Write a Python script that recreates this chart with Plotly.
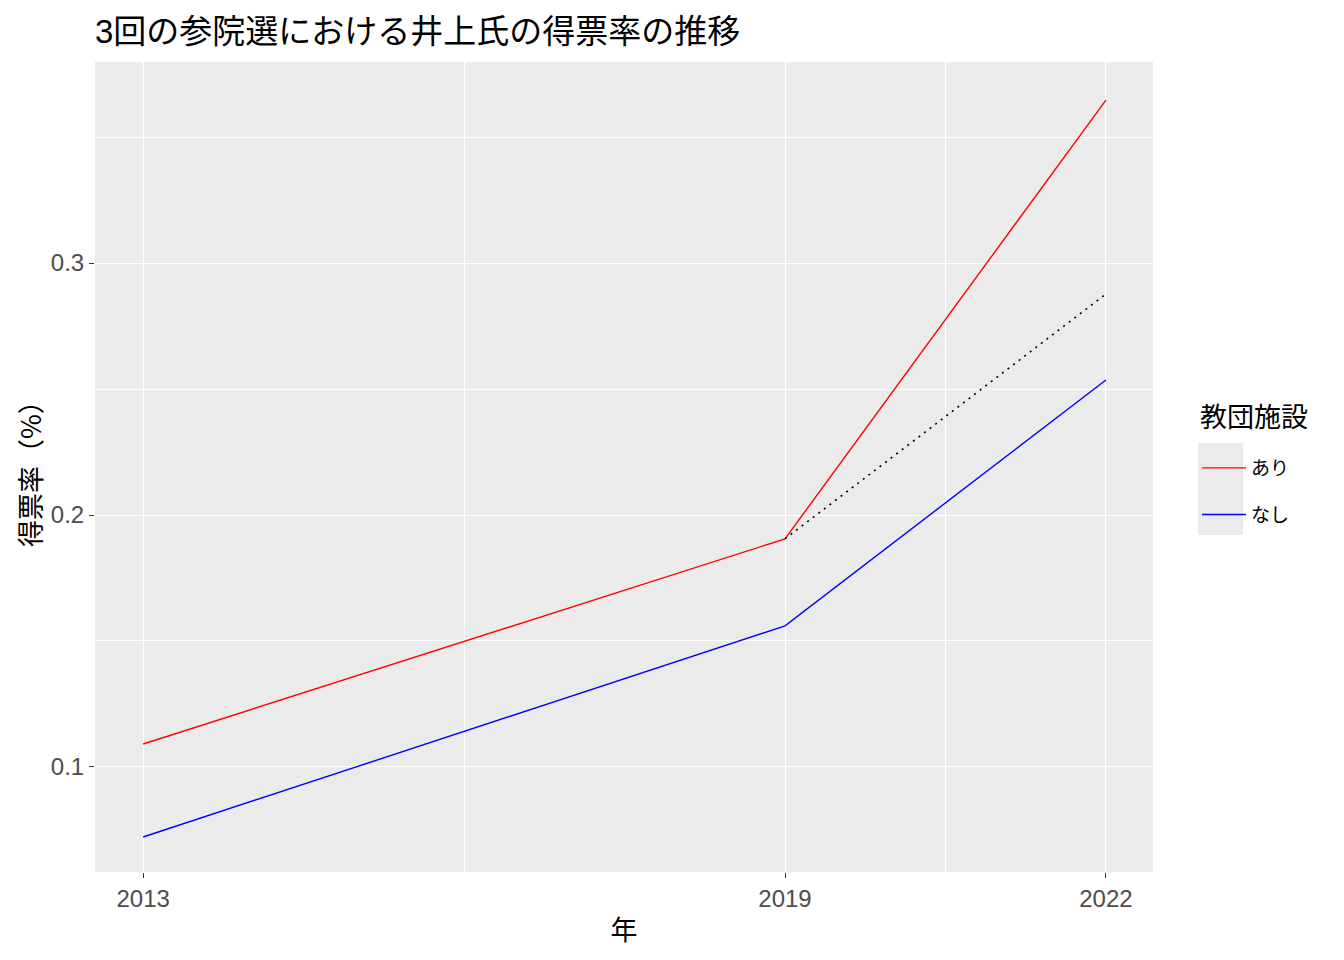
import plotly.graph_objects as go

years = [2013, 2019, 2022]
ari = [0.1091, 0.1905, 0.3647]
nashi = [0.0722, 0.1560, 0.2536]
cf_years = [2019, 2022]
cf_vals = [0.1905, 0.2877]
groups = ["あり", "なし"]
colors = ["#FF0000", "#0000FF"]
xticks = [2013, 2019, 2022]
yticks = [0.1, 0.2, 0.3]
legend_title = "教団施設"
y_title = "得票率（%）"

FONT = "Liberation Sans, Arial, Noto Sans CJK JP"
JP = "Noto Sans CJK JP"

# page has an 8px body margin; figure coordinates are offset accordingly
W, H = 1336, 952
L, T = 87, 54
PW, PH = 1058, 810

fig = go.Figure()
fig.add_trace(go.Scatter(x=years, y=ari, mode="lines", name=groups[0], legendgroup="a",
                         line=dict(color=colors[0], width=1.4)))
fig.add_trace(go.Scatter(x=years, y=nashi, mode="lines", name=groups[1], legendgroup="b",
                         line=dict(color=colors[1], width=1.4)))
fig.add_trace(go.Scatter(x=cf_years, y=cf_vals, mode="lines", showlegend=False,
                         line=dict(color="black", width=1.6, dash="2px,5px")))

grid = "white"
fig.update_layout(
    width=W, height=H,
    margin=dict(l=L, r=W - L - PW, t=T, b=H - T - PH),
    paper_bgcolor="white", plot_bgcolor="#EBEBEB",
    font=dict(family=FONT, color="black"),
    title=dict(text="3回の参院選における井上氏の得票率の推移",
               x=L / W, xanchor="left", y=1 - 23 / H, yanchor="middle",
               font=dict(size=33, family=FONT, color="black")),
    xaxis=dict(range=[2012.55, 2022.44], tickvals=xticks, ticktext=[str(v) for v in xticks],
               showgrid=True, gridcolor=grid, gridwidth=1.3,
               minor=dict(tickvals=[2016, 2020.5], showgrid=True, gridcolor=grid, gridwidth=0.7),
               ticks="outside", ticklen=5, tickcolor="#333333", tickwidth=1,
               tickfont=dict(size=24, color="#4D4D4D", family=FONT),
               zeroline=False, showline=False,
               title=dict(text="年", font=dict(size=27, family=JP), standoff=10)),
    yaxis=dict(range=[0.0583, 0.3798], tickvals=yticks, ticktext=["0.1", "0.2", "0.3"],
               showgrid=True, gridcolor=grid, gridwidth=1.3,
               minor=dict(tickvals=[0.15, 0.25, 0.35], showgrid=True, gridcolor=grid, gridwidth=0.7),
               ticks="outside", ticklen=5, tickcolor="#333333", tickwidth=1,
               tickfont=dict(size=24, color="#4D4D4D", family=FONT),
               zeroline=False, showline=False),
    legend=dict(x=1102 / PW, xanchor="left", y=(872 - 449) / PH, yanchor="top",
                bgcolor="rgba(0,0,0,0)", font=dict(size=19, family=JP),
                tracegroupgap=19, itemwidth=44),
    annotations=[
        dict(text=legend_title, xref="paper", yref="paper",
             x=(1198 - 95) / PW, y=(872 - 415) / PH, xanchor="left", yanchor="middle",
             showarrow=False, font=dict(size=27, family=JP, color="black")),
        dict(text=y_title, xref="paper", yref="paper", textangle=-90,
             x=(29 - 95) / PW, y=(872 - 467) / PH, xanchor="center", yanchor="middle",
             showarrow=False, font=dict(size=27, family=JP, color="black")),
    ],
    shapes=[dict(type="rect", xref="paper", yref="paper",
                 x0=(1198 - 95) / PW, x1=(1243 - 95) / PW,
                 y0=(872 - 535) / PH, y1=(872 - 443) / PH,
                 fillcolor="#EBEBEB", line=dict(width=0), layer="below")],
)

fig.write_html("out.html")
